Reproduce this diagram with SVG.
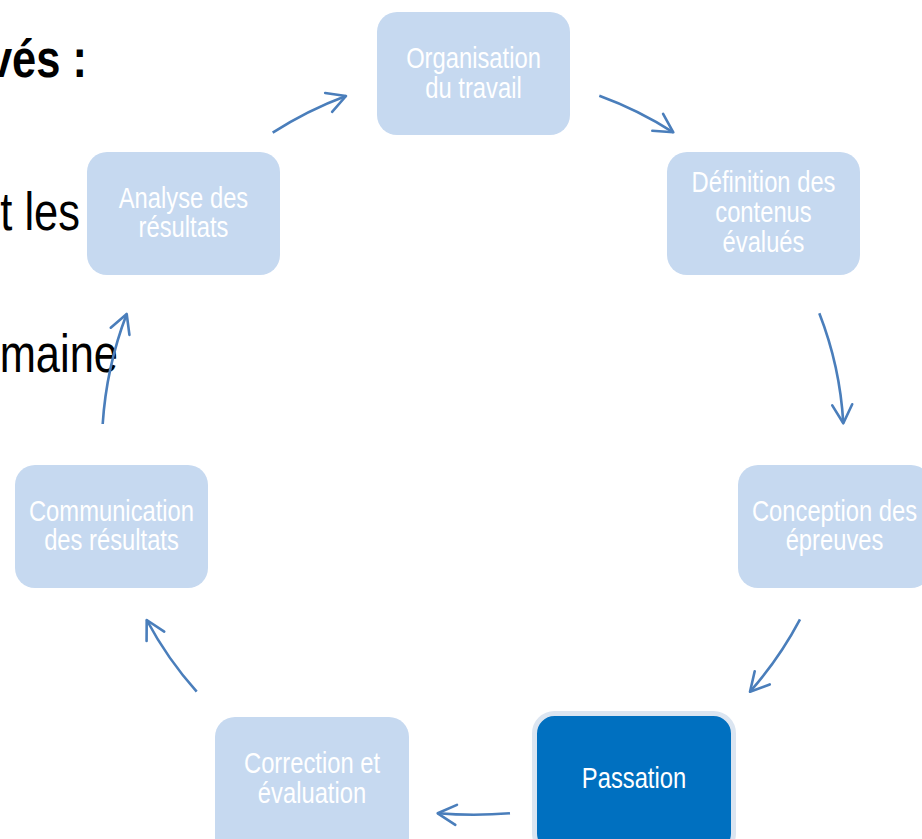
<svg xmlns="http://www.w3.org/2000/svg" width="922" height="839" viewBox="0 0 922 839">
<defs>
<style>
.bg{fill:#ffffff}
.box{fill:#c6d9f0}
.hl{fill:#0070c0;stroke:#dbe5f1;stroke-width:5}
.lbl{font-family:"Liberation Sans",Arial,sans-serif;font-size:29px;fill:#ffffff;text-anchor:middle}
.side{font-family:"Liberation Sans",Arial,sans-serif;font-size:53px;fill:#000000;text-anchor:end}
.conn{fill:none;stroke:#4a7ebb;stroke-width:2.6;marker-end:url(#arr)}
</style>
<marker id="arr" markerUnits="userSpaceOnUse" markerWidth="40" markerHeight="40" refX="0" refY="0" viewBox="-25 -20 30 40" orient="auto">
<path d="M-18.5,-10 L0,0 L-18.5,10" fill="none" stroke="#4a7ebb" stroke-width="2.6" stroke-linejoin="round" stroke-linecap="round"/>
</marker>
</defs>
<rect class="bg" x="0" y="0" width="922" height="839"/>
<g id="background-text">
<text class="side" font-weight="bold" transform="translate(87 77) scale(0.82 1)">vés :</text>
<text class="side" transform="translate(80 230) scale(0.82 1)">t les</text>
<text class="side" transform="translate(118 372) scale(0.82 1)">maine</text>
</g>
<g id="connectors">
<path class="conn" d="M272.7,132.7 Q307.4,110.3 346,96"/>
<path class="conn" d="M599.3,95.7 Q638.3,109.9 673.3,132.3"/>
<path class="conn" d="M819.3,313.3 Q840,366.3 843.3,423.3"/>
<path class="conn" d="M800,619.3 Q779.3,658.4 750,691.7"/>
<path class="conn" d="M510,813.3 Q473.9,816.3 437.7,813.3"/>
<path class="conn" d="M196.7,691.7 Q167.4,658.8 146.7,620"/>
<path class="conn" d="M102.7,424 Q106.4,367 126.7,314"/>
</g>
<g id="organisation">
<rect class="box" x="377" y="12" width="193" height="123" rx="20"/>
<text class="lbl" transform="translate(473.5 68.3) scale(0.82 1)"><tspan x="0" y="0">Organisation</tspan><tspan x="0" y="29.5">du travail</tspan></text>
</g>
<g id="definition">
<rect class="box" x="667" y="152" width="193" height="123" rx="20"/>
<text class="lbl" transform="translate(763.5 191.7) scale(0.82 1)"><tspan x="0" y="0">Définition des</tspan><tspan x="0" y="30">contenus</tspan><tspan x="0" y="60">évalués</tspan></text>
</g>
<g id="conception">
<rect class="box" x="738" y="465" width="193" height="123" rx="20"/>
<text class="lbl" transform="translate(834.5 521) scale(0.82 1)"><tspan x="0" y="0">Conception des</tspan><tspan x="0" y="29.5">épreuves</tspan></text>
</g>
<g id="passation">
<rect class="hl" x="534.5" y="713.5" width="199" height="140" rx="20"/>
<text class="lbl" transform="translate(634 788.3) scale(0.82 1)">Passation</text>
</g>
<g id="correction">
<rect class="box" x="215" y="717" width="194" height="140" rx="20"/>
<text class="lbl" transform="translate(312 773.3) scale(0.82 1)"><tspan x="0" y="0">Correction et</tspan><tspan x="0" y="29.5">évaluation</tspan></text>
</g>
<g id="communication">
<rect class="box" x="15" y="465" width="193" height="123" rx="20"/>
<text class="lbl" transform="translate(111.5 520.7) scale(0.82 1)"><tspan x="0" y="0">Communication</tspan><tspan x="0" y="29.5">des résultats</tspan></text>
</g>
<g id="analyse">
<rect class="box" x="87" y="152" width="193" height="123" rx="20"/>
<text class="lbl" transform="translate(183.5 207.7) scale(0.82 1)"><tspan x="0" y="0">Analyse des</tspan><tspan x="0" y="29.5">résultats</tspan></text>
</g>
</svg>
